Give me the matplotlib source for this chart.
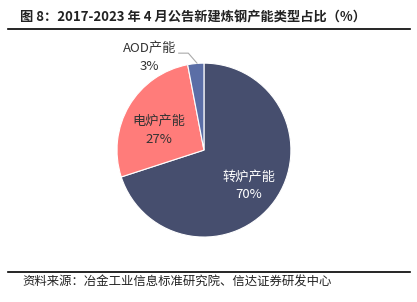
import matplotlib.pyplot as plt
from matplotlib.lines import Line2D

plt.rcParams['font.family'] = ['Noto Sans CJK SC', 'DejaVu Sans']

labels = ['转炉产能', '电炉产能', 'AOD产能']
shares = [70, 27, 3]
colors = ['#464e6e', '#ff7c7a', '#5b6ea6']

fig = plt.figure(figsize=(4.17, 3.02), dpi=100)
ax = fig.add_axes([0.2806, 0.215, 0.417, 0.576])
wedges, _ = ax.pie(shares, colors=colors, startangle=90, counterclock=False,
                   wedgeprops=dict(edgecolor='white', linewidth=0.8))
ax.set_xlim(-1.0, 1.0)
ax.set_ylim(-1.0, 1.0)
ax.set_aspect('equal')

ax.text(0.52, -0.41, f'{labels[0]}\n{shares[0]}%', color='white', fontsize=9.5,
        ha='center', va='center', linespacing=1.5)
ax.text(-0.52, 0.23, f'{labels[1]}\n{shares[1]}%', color='#333333', fontsize=9.5,
        ha='center', va='center', linespacing=1.5)
ax.text(-0.63, 1.07, f'{labels[2]}\n{shares[2]}%', color='#333333', fontsize=9.5,
        ha='center', va='center', linespacing=1.5)
ax.plot([-0.29, -0.18, -0.08], [1.115, 1.115, 1.0], color='#aaaaaa', lw=0.8, clip_on=False)

fig.text(0.048, 0.943, '图 8：2017-2023 年 4 月公告新建炼钢产能类型占比（%）',
         fontsize=9.5, fontweight='bold', color='#222222', va='center')
fig.add_artist(Line2D([0.02, 0.983], [0.905, 0.905], color='black', lw=1.2))
fig.add_artist(Line2D([0.02, 0.983], [0.1, 0.1], color='black', lw=1.2))
fig.text(0.053, 0.066, '资料来源：冶金工业信息标准研究院、信达证券研发中心',
         fontsize=8.9, style='italic', color='#222222', va='center')

fig.savefig('out.png', dpi=100)
